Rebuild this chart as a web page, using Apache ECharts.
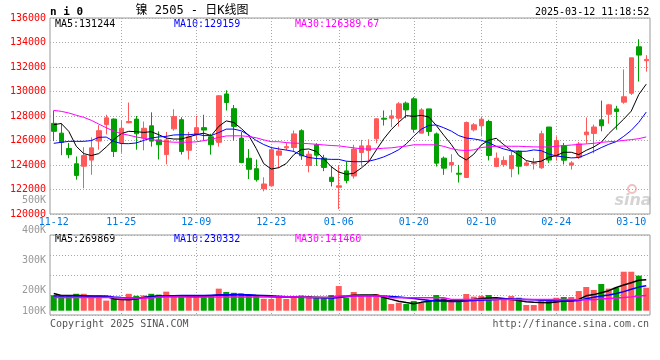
<!DOCTYPE html>
<html><head><meta charset="utf-8">
<script src="https://cdn.jsdelivr.net/npm/echarts/dist/echarts.min.js"></script>
<style>html,body{margin:0;padding:0;background:#fff}#c{width:660px;height:360px}</style>
</head><body><div id="c"></div>
<script>
const dates = ['11-12','11-13','11-14','11-15','11-18','11-19','11-20','11-21','11-22','11-25','11-26','11-27','11-28','11-29',
'12-02','12-03','12-04','12-05','12-06','12-09','12-10','12-11','12-12','12-13','12-16','12-17','12-18','12-19','12-20','12-23','12-24','12-25','12-26','12-27','12-30','12-31',
'01-02','01-03','01-06','01-07','01-08','01-09','01-10','01-13','01-14','01-15','01-16','01-17','01-20','01-21','01-22','01-23','01-24','01-27',
'02-05','02-06','02-07','02-10','02-11','02-12','02-13','02-14','02-17','02-18','02-19','02-20','02-21','02-24','02-25','02-26','02-27','02-28',
'03-03','03-04','03-05','03-06','03-07','03-10','03-11','03-12'];
const xTickLabels = ['11-12','11-25','12-09','12-23','01-06','01-20','02-10','02-24','03-10'];

const open = [127400,126600,125350,124100,123900,124400,125950,127300,127750,125800,
127450,127750,126200,127200,126050,124850,126950,127700,125200,126450,
127050,126300,125850,129800,128600,126200,124550,123700,122050,122300,
124800,125400,125430,126800,123960,125650,124560,123000,122180,123520,
123100,125020,125180,126140,127820,127820,127820,129050,129400,126600,
128580,126540,124560,124010,123330,122980,126870,127200,127550,123880,
124030,123700,125120,123980,124100,123770,127100,124720,125580,123990,
124630,126470,126580,127690,128150,128580,129130,129860,133650,132510];
const close = [126750,125850,124850,123150,124770,125400,126800,127850,125100,127000,
127550,126550,127000,125950,125650,126050,127950,125100,126300,127050,
126850,125650,129650,129100,127150,124200,123650,122800,122450,125250,
125150,125500,126540,124750,124880,124800,123800,122650,122300,122740,
125300,125560,125570,127770,127740,128010,128990,128500,126920,128500,
126740,124150,123740,124200,123250,127470,127280,127740,124780,124560,
124370,124770,123900,124170,124180,126550,124400,125990,124390,124170,
125720,126690,127100,127200,128910,128370,129570,132750,132970,132620];
const low = [125950,124800,124550,122800,122100,123200,125250,126500,124650,125000,
127400,125250,125200,125500,124450,124050,126800,124850,124450,126050,
126000,124850,125500,128450,126000,124150,122850,122650,121850,122300,
123750,125200,125050,124420,123400,123930,123500,122250,120400,122500,
122900,123880,124200,125780,127220,127090,127140,127820,126650,126600,
126380,123880,123200,123390,122570,122980,126740,126330,124370,123820,
123850,123000,123230,123900,123630,123690,124170,124360,124040,123630,
124500,125740,124950,126750,127370,126880,129000,129720,130810,131620];
const high = [128450,127400,125800,124700,125450,126250,127250,128100,127800,127650,
129100,128000,127550,128300,126750,126700,128550,127900,126700,128000,
128100,126550,129700,130100,128900,126700,125300,124450,123000,125500,
125500,125800,126820,126920,125150,125780,124830,123930,124000,124280,
125650,126050,126100,127820,128450,128500,129130,129180,129540,128640,
128580,126650,124690,124880,124010,127550,127420,127960,127690,125020,
124700,125120,125200,124360,124580,126800,127100,126340,125800,124310,
125880,127880,127300,129260,128990,128830,131800,132750,134270,132970];

const ma5 = [127290,127390,126750,125530,124930,124770,124930,125470,126070,126560,
126750,126720,126660,126720,126470,126200,126120,126120,126290,126470,
126600,126400,127150,127600,127470,126980,126410,125340,124110,123670,
123780,124120,124840,125260,125310,125110,124500,123860,123420,123250,
123320,123750,124270,125220,126130,126890,127490,128030,127970,128050,
127920,127230,126430,125680,124770,124410,124880,125630,126030,126180,
125660,125200,124820,124360,124230,124310,124630,124770,125040,125040,
124850,125200,125470,125850,126560,127150,127750,128400,129750,130600];
const ma10 = [125770,125850,125930,125930,125930,125990,126260,126280,125930,125750,
125740,125800,126010,126200,126290,126340,126450,126470,126470,126530,
126400,126400,126650,126930,126930,126790,126440,126000,125670,125420,
125310,125220,125110,124810,124610,124530,124490,124460,124460,124310,
124270,124270,124310,124460,124660,124930,125250,125720,126360,126920,
127230,127270,127040,126770,126400,126200,126130,126020,125830,125520,
125310,125150,125120,125120,125230,125170,124900,124740,124660,124580,
124610,124850,125120,125420,125690,125910,126340,126830,127480,128320];
const ma30 = [128460,128380,128250,128060,127890,127650,127340,127040,126770,126560,
126430,126290,126180,126090,125980,125910,125860,125860,125860,125890,
125990,126100,126250,126370,126380,126380,126330,126220,126050,125900,
125900,125830,125780,125770,125740,125690,125640,125590,125560,125480,
125400,125320,125300,125320,125370,125400,125480,125540,125650,125650,
125650,125650,125520,125340,125220,125180,125230,125420,125500,125530,
125540,125530,125530,125500,125480,125470,125470,125530,125580,125630,
125680,125720,125770,125850,125900,125930,126010,126070,126150,126290];

const volume = [130000,128000,128000,142000,142000,130000,128000,85000,100000,98000,
142000,125000,128000,142000,135000,160000,125000,125000,125000,132000,
130000,130000,185000,157000,150000,145000,135000,128000,100000,98000,
120000,98000,122000,128000,122000,115000,115000,132000,207000,109000,
157000,132000,123000,140000,123000,56000,67000,56000,81000,67000,
90000,132000,104000,90000,76000,140000,118000,123000,132000,98000,
98000,123000,109000,48000,48000,81000,81000,109000,115000,115000,
165000,199000,174000,224000,185000,193000,327000,327000,294000,193000];
const volMa5 = [145000,128000,128000,128000,125000,120000,120000,118000,100000,95000,
92000,98000,110000,120000,123000,123000,125000,125000,120000,118000,
122000,125000,132000,132000,135000,135000,130000,128000,125000,118000,
115000,112000,112000,112000,112000,112000,110000,112000,118000,123000,
130000,132000,132000,132000,110000,95000,80000,68000,58000,70000,
80000,88000,88000,83000,85000,90000,95000,102000,106000,109000,
102000,94000,85000,76000,70000,68000,67000,74000,81000,81000,
95000,125000,135000,150000,168000,195000,215000,235000,255000,260000];
const volMa10 = [123000,123000,123000,123000,123000,123000,123000,123000,115000,110000,
107000,107000,110000,115000,118000,122000,125000,127000,127000,127000,
128000,130000,132000,133000,134000,134000,133000,130000,128000,125000,
122000,118000,115000,112000,110000,108000,108000,104000,110000,118000,
123000,125000,126000,126000,123000,120000,115000,109000,103000,95000,
87000,82000,79000,78000,78000,82000,86000,88000,90000,95000,
98000,98000,98000,95000,92000,88000,85000,82000,81000,81000,
85000,100000,113000,123000,132000,145000,160000,180000,198000,210000];
const volMa30 = [110000,110000,110000,110000,110000,110000,110000,110000,110000,107000,
107000,107000,107000,107000,114000,114000,114000,114000,114000,114000,
114000,114000,114000,114000,114000,114000,114000,114000,114000,114000,
114000,114000,114000,114000,110000,110000,110000,110000,123000,123000,
123000,123000,123000,123000,123000,109000,109000,109000,109000,109000,
109000,109000,109000,95000,95000,95000,95000,95000,95000,95000,
95000,95000,95000,95000,95000,95000,95000,95000,95000,95000,
92000,92000,92000,98000,102000,106000,110000,116000,124000,128000];

const volTickLabels = ['500K','400K','300K','200K','100K'];
const mainLegend = ['MA5:131244','MA10:129159','MA30:126389.67'];
const volLegend = ['MA5:269869','MA10:230332','MA30:141460'];
const titleText = '镍 2505 - 日K线图';
const symbolText = 'n i 0';
const timeText = '2025-03-12 11:18:52';

const RED = '#ff5a5a', GREEN = '#00a000';
const MONO = 'DejaVu Sans Mono';
const lineColors = ['#000000', '#0000ff', '#ff00ff'];
const dotted = {color: '#a8a8a8', width: 1, type: [1, 2]};

const showLabel = (i, v) => xTickLabels.indexOf(v) >= 0;
const showSplit = (i, v) => xTickLabels.indexOf(v) > 0 && xTickLabels.indexOf(v) < xTickLabels.length - 1;

const chart = echarts.init(document.getElementById('c'), null, {renderer: 'canvas'});

const volLabelY = [200, 230.5, 260, 290.7, 311.7];
const legendX = [55, 174, 295];
const graphics = [
  {type: 'text', x: 50, y: 12, style: {text: symbolText, font: 'bold 11px ' + MONO, fill: '#000', align: 'left', verticalAlign: 'middle'}},
  {type: 'text', x: 192, y: 11, style: {text: titleText, font: '12px "DejaVu Sans Mono", "Noto Sans CJK SC"', fill: '#000', align: 'center', verticalAlign: 'middle'}},
  {type: 'text', x: 535, y: 12, style: {text: timeText, font: '10px ' + MONO, fill: '#000', align: 'left', verticalAlign: 'middle'}},
  {type: 'text', x: 50, y: 324, style: {text: 'Copyright 2025 SINA.COM', font: '10px ' + MONO, fill: '#555', align: 'left', verticalAlign: 'middle'}},
  {type: 'text', x: 649, y: 324, style: {text: 'http://finance.sina.com.cn', font: '10px ' + MONO, fill: '#555', align: 'right', verticalAlign: 'middle'}},
  {type: 'circle', shape: {cx: 632, cy: 189, r: 4}, style: {fill: 'none', stroke: 'rgba(230,130,130,0.5)', lineWidth: 2}},
  {type: 'text', x: 633, y: 201, style: {text: 'sina', font: 'italic bold 16px "DejaVu Sans"', fill: 'rgba(160,160,160,0.45)', align: 'center', verticalAlign: 'middle'}}
];
mainLegend.forEach((t, k) => graphics.push({type: 'text', x: legendX[k], y: 24, style: {text: t, font: '10px ' + MONO, fill: lineColors[k], align: 'left', verticalAlign: 'middle'}}));
volLegend.forEach((t, k) => graphics.push({type: 'text', x: legendX[k], y: 239, style: {text: t, font: '10px ' + MONO, fill: lineColors[k], align: 'left', verticalAlign: 'middle'}}));
volTickLabels.forEach((t, k) => graphics.push({type: 'text', x: 46, y: volLabelY[k], style: {text: t, font: '10px ' + MONO, fill: '#999', align: 'right', verticalAlign: 'middle'}}));

const maLine = (name, data, color, xi, yi, w) => ({
  name, type: 'line', data, xAxisIndex: xi, yAxisIndex: yi, symbol: 'none', silent: true,
  lineStyle: {color, width: w}, z: 5
});

chart.setOption({
  animation: false,
  backgroundColor: '#fff',
  grid: [
    {left: 50, right: 10, top: 18, height: 196, show: true, borderColor: '#999', borderWidth: 1, backgroundColor: 'transparent'},
    {left: 50, right: 10, top: 235, height: 80, show: true, borderColor: '#999', borderWidth: 1, backgroundColor: 'transparent'}
  ],
  xAxis: [
    {type: 'category', gridIndex: 0, data: dates, boundaryGap: true,
     axisLine: {show: false}, axisTick: {show: false},
     axisLabel: {interval: showLabel, color: '#0077dd', fontFamily: MONO, fontSize: 10, margin: 3},
     splitLine: {show: true, interval: showSplit, alignWithLabel: true, lineStyle: dotted}},
    {type: 'category', gridIndex: 1, data: dates, boundaryGap: true,
     axisLine: {show: false}, axisTick: {show: false}, axisLabel: {show: false},
     splitLine: {show: true, interval: showSplit, alignWithLabel: true, lineStyle: dotted}}
  ],
  yAxis: [
    {type: 'value', gridIndex: 0, min: 120000, max: 136000, interval: 2000,
     axisLine: {show: false}, axisTick: {show: false},
     axisLabel: {color: '#ff0000', fontFamily: MONO, fontSize: 10, margin: 4, formatter: v => String(v)},
     splitLine: {show: true, lineStyle: dotted}},
    {type: 'value', gridIndex: 1, min: -36000, max: 635000, show: false},
    {type: 'value', gridIndex: 1, min: 0, max: 4, interval: 1,
     axisLine: {show: false}, axisTick: {show: false}, axisLabel: {show: false},
     splitLine: {show: true, lineStyle: dotted}}
  ],
  graphic: graphics,
  series: [
    {name: 'K', type: 'candlestick', xAxisIndex: 0, yAxisIndex: 0, barWidth: 5,
     data: dates.map((d, i) => [open[i], close[i], low[i], high[i]]),
     itemStyle: {color: RED, color0: GREEN, borderColor: RED, borderColor0: GREEN, borderWidth: 1}},
    maLine('MA5', ma5, lineColors[0], 0, 0, 1),
    maLine('MA10', ma10, lineColors[1], 0, 0, 1),
    maLine('MA30', ma30, lineColors[2], 0, 0, 1),
    {name: 'VOL', type: 'bar', xAxisIndex: 1, yAxisIndex: 1, barWidth: 6,
     data: volume.map((v, i) => ({value: v, itemStyle: {color: close[i] >= open[i] ? RED : GREEN}}))},
    maLine('VMA5', volMa5, lineColors[0], 1, 1, 1.5),
    maLine('VMA10', volMa10, lineColors[1], 1, 1, 1.5),
    maLine('VMA30', volMa30, lineColors[2], 1, 1, 1.5)
  ]
});
</script></body></html>
